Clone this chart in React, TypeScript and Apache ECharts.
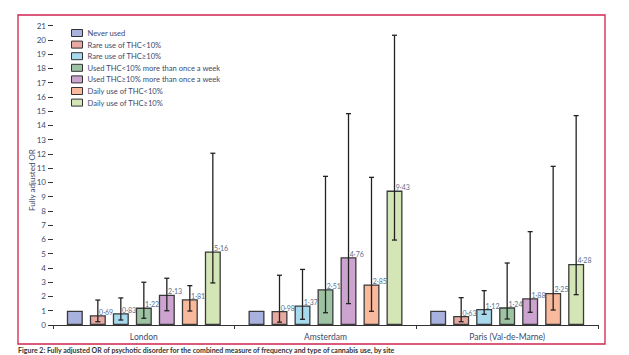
import React, { useEffect, useRef } from "react";
import * as echarts from "echarts";

const sites = ["London", "Amsterdam", "Paris (Val-de-Marne)"];
const seriesNames = [
  "Never used",
  "Rare use of THC<10%",
  "Rare use of THC≥10%",
  "Used THC<10% more than once a week",
  "Used THC≥10% more than once a week",
  "Daily use of THC<10%",
  "Daily use of THC≥10%",
];
const colors = ["#a9b1de", "#e8a9a2", "#a8d9ec", "#9dc3a3", "#cda4d0", "#f9b99c", "#d4e5b6"];

// values per series: [London, Amsterdam, Paris]
const orValues = [
  [1, 1, 1],
  [0.69, 0.98, 0.63],
  [0.83, 1.37, 1.12],
  [1.22, 2.51, 1.24],
  [2.13, 4.76, 1.88],
  [1.81, 2.85, 2.25],
  [5.16, 9.43, 4.28],
];
const ciLow = [
  [null, null, null],
  [0.23, 0.2, 0.23],
  [0.35, 0.4, 0.75],
  [0.47, 0.86, 0.42],
  [1.0, 1.5, 0.89],
  [0.98, 0.96, 1.05],
  [2.95, 5.96, 2.13],
];
const ciHigh = [
  [null, null, null],
  [1.75, 3.49, 1.92],
  [1.9, 3.9, 2.41],
  [3.0, 10.43, 4.35],
  [3.28, 14.83, 6.55],
  [2.76, 10.36, 11.13],
  [12.05, 20.33, 14.69],
];
const yTicks = { min: 0, max: 21, interval: 1 };
const yAxisTitle = "Fully adjusted OR";

const FONT = "Lato";
const BAR_W = 16;
const BAR_GAP = 7;

export default function App() {
  const ref = useRef<HTMLDivElement>(null);
  useEffect(() => {
    if (!ref.current) return;
    const chart = echarts.init(ref.current, null, { renderer: "svg" });
    const fmt = (v: number) => v.toFixed(2).replace(".", "·");

    const barSeries = seriesNames.map((name, i) => ({
      name,
      type: "bar",
      barWidth: BAR_W,
      barGap: (BAR_GAP / BAR_W) * 100 + "%",
      data: orValues[i],
      itemStyle: { color: colors[i], borderColor: "#3a3a3a", borderWidth: 1.3 },
      label: {
        show: i > 0,
        position: ["58%", -7],
        align: "left",
        formatter: (p: any) => fmt(p.value),
        fontSize: 7,
        fontFamily: FONT,
        color: "#5a6f8f",
      },
      z: 2,
    }));

    const errSeries = seriesNames.slice(1).map((name, k) => {
      const i = k + 1;
      const data = sites.map((_, c) => [c, ciLow[i][c], ciHigh[i][c]]);
      return {
        name,
        type: "custom",
        z: 5,
        renderItem: (params: any, api: any) => {
          const c = api.value(0);
          const lo = api.coord([c, api.value(1)]);
          const hi = api.coord([c, api.value(2)]);
          const x = lo[0] + (i - 3) * (BAR_W + BAR_GAP);
          const cap = 2.5;
          const st = { stroke: "#222", lineWidth: 1.3 };
          return {
            type: "group",
            children: [
              { type: "line", shape: { x1: x, y1: lo[1], x2: x, y2: hi[1] }, style: st },
              { type: "line", shape: { x1: x - cap, y1: hi[1], x2: x + cap, y2: hi[1] }, style: st },
              { type: "line", shape: { x1: x - cap, y1: lo[1], x2: x + cap, y2: lo[1] }, style: st },
            ],
          };
        },
        data,
        silent: true,
      };
    });

    chart.setOption({
      animation: false,
      textStyle: { fontFamily: FONT },
      grid: { left: 53, right: 31, top: 25.7, bottom: 30 },
      legend: {
        orient: "vertical",
        left: 66,
        top: 24,
        itemWidth: 11,
        itemHeight: 7,
        itemGap: 3.6,
        icon: "rect",
        data: seriesNames,
        textStyle: { fontSize: 7.6, color: "#3c4a6e", fontFamily: FONT },
        itemStyle: { borderColor: "#333", borderWidth: 1 },
      },
      xAxis: {
        type: "category",
        data: sites,
        axisLine: { lineStyle: { color: "#333", width: 1.2 } },
        axisTick: { show: true, length: 4, lineStyle: { color: "#333" } },
        axisLabel: { fontSize: 8.5, color: "#3c4a6e", fontFamily: FONT, margin: 7 },
      },
      yAxis: {
        type: "value",
        min: yTicks.min,
        max: yTicks.max,
        interval: yTicks.interval,
        axisLine: { show: false },
        axisTick: { show: true, length: 5, lineStyle: { color: "#333", width: 1 } },
        splitLine: { show: false },
        axisLabel: { fontSize: 8, color: "#3c4a6e", fontFamily: FONT, margin: 7 },
      },
      graphic: [
        {
          type: "rect",
          shape: { x: 18, y: 15, width: 587, height: 329 },
          style: { fill: "none", stroke: "#d0234f", lineWidth: 1.3 },
          silent: true,
        },
        {
          type: "text",
          x: 32,
          y: 180,
          rotation: Math.PI / 2,
          style: {
            text: yAxisTitle,
            fontSize: 8,
            fontFamily: FONT,
            fill: "#3c4a6e",
            align: "center",
            verticalAlign: "middle",
          },
          silent: true,
        },
        {
          type: "text",
          x: 18,
          y: 346,
          style: {
            text: "Figure 2: Fully adjusted OR of psychotic disorder for the combined measure of frequency and type of cannabis use, by site",
            fontSize: 7,
            fontWeight: "bold",
            fontFamily: FONT,
            fill: "#333",
          },
          silent: true,
        },
      ],
      series: [...barSeries, ...errSeries],
    });
    return () => chart.dispose();
  }, []);
  return (
    <div
      ref={ref}
      style={{ position: "fixed", left: 0, top: 0, width: 629, height: 355, background: "#fff" }}
    />
  );
}
